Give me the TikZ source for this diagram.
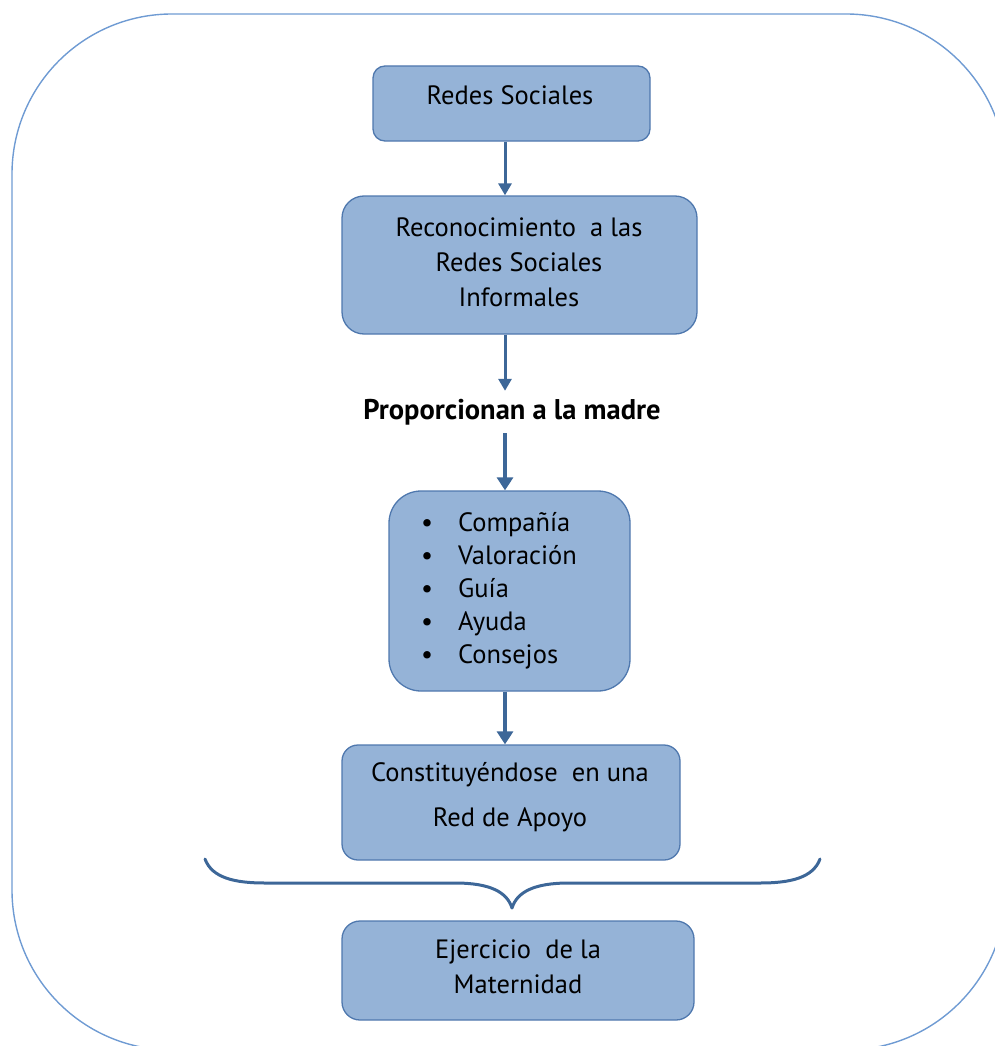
\documentclass[tikz,border=0pt]{standalone}
\usepackage{fontspec}
\setmainfont{PT Sans}
\usetikzlibrary{arrows.meta}
\definecolor{boxfill}{HTML}{95B3D7}
\definecolor{boxline}{HTML}{4F78AE}
\definecolor{arrowc}{HTML}{3D6798}
\definecolor{outerc}{HTML}{6F9BD3}
\begin{document}
\begin{tikzpicture}[x=1pt,y=-1pt,
  box/.style={draw=boxline, fill=boxfill, line width=1.3pt, inner sep=0pt},
  txt/.style={inner sep=0pt, align=center, text=black, font=\fontsize{26.5}{35}\selectfont},
  thinarrow/.style={draw=arrowc, line width=3pt, -{Triangle[width=13pt,length=12pt]}},
  thickarrow/.style={draw=arrowc, line width=4.5pt, -{Triangle[width=16pt,length=13pt]}}]
\useasboundingbox (0,0) rectangle (995,1046);
\clip (0,0) rectangle (995,1046);
% outer frame
\draw[outerc, line width=1.4pt, rounded corners=160pt] (12,14) rectangle (1006,1050);
% boxes
\node[box, rounded corners=12pt, minimum width=277pt, minimum height=75pt] (b1) at (511.5,103.5) {};
\node[txt] (t1) at (510,95) {Redes Sociales};
\node[box, rounded corners=22pt, minimum width=355pt, minimum height=138pt] (b2) at (519.5,265) {};
\node[txt] (t2) at (519,262) {Reconocimiento\ \ a las\\Redes Sociales\\Informales};
\node[inner sep=0pt, minimum height=42pt, font=\fontsize{28.5}{30}\selectfont\bfseries] (prop) at (512,412) {Proporcionan a la madre};
\node[box, rounded corners=32pt, minimum width=241pt, minimum height=200pt] (b3) at (509.5,591) {};
\node[txt, align=left, anchor=west, font=\fontsize{26.5}{33}\selectfont] (t3) at (421,591)
  {\makebox[37pt][l]{•}Compañía\\\makebox[37pt][l]{•}Valoración\\\makebox[37pt][l]{•}Guía\\\makebox[37pt][l]{•}Ayuda\\\makebox[37pt][l]{•}Consejos};
\node[box, rounded corners=16pt, minimum width=338pt, minimum height=115pt] (b4) at (511,802.5) {};
\node[txt, font=\fontsize{26.5}{45}\selectfont] (t4) at (510,797) {Constituyéndose\ \ en una\\Red de Apoyo};
\node[box, rounded corners=18pt, minimum width=352pt, minimum height=99pt] (b5) at (518,970.5) {};
\node[txt] (t5) at (518,967) {Ejercicio\ \ de la\\Maternidad};
% arrows
\coordinate (ax) at (505,0);
\draw[thinarrow] (b1.south -| ax) -- (b2.north -| ax);
\draw[thinarrow] (b2.south -| ax) -- (prop.north -| ax);
\draw[thickarrow] (prop.south -| ax) -- (b3.north -| ax);
\draw[thickarrow] (b3.south -| ax) -- (b4.north -| ax);
% brace
\coordinate (bl) at (205,859);
\coordinate (br) at (820,859);
\coordinate (tip) at (512,908);
\draw[arrowc, line width=3pt, line cap=round, line join=round]
  (bl) .. controls (212,878) and (235,883) .. (265,883) -- (455,883)
  .. controls (490,883) and (507,892) .. (tip)
  .. controls (517,892) and (534,883) .. (569,883) -- (760,883)
  .. controls (790,883) and (813,878) .. (br);
\end{tikzpicture}
\end{document}
